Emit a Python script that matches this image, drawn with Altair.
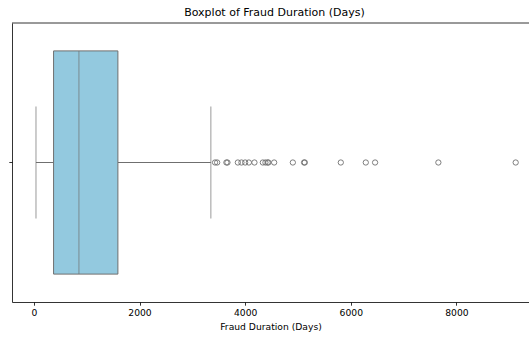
import altair as alt
import pandas as pd

# ---- data ----
group = ["Fraud Duration (Days)"]
whisker_low = [40]
q1 = [373]
median = [853]
q3 = [1591]
whisker_high = [3351]
outliers = [3430, 3470, 3645, 3665, 3862, 3930, 4000, 4070, 4176, 4335, 4384,
            4425, 4440, 4549, 4903, 5115, 5130, 5811, 6284, 6460, 7658, 9122]
x_ticks = [0, 2000, 4000, 6000, 8000]

stats = pd.DataFrame({"group": group, "wlo": whisker_low, "q1": q1,
                      "med": median, "q3": q3, "whi": whisker_high})
fliers = pd.DataFrame({"group": group * len(outliers), "value": outliers})

FONT = "DejaVu Sans"
LINE = "#6f6f6f"
FILL = "#93C9DF"
W, H = 517, 279

xscale = alt.Scale(domain=[-414, 9374], nice=False, zero=False)
xaxis = alt.Axis(values=x_ticks, format="d", grid=False, title="Fraud Duration (Days)",
                 labelFont=FONT, labelFontSize=9.2, labelColor="black", labelPadding=3,
                 titleFont=FONT, titleFontSize=9.2, titleFontWeight="normal", titleColor="black",
                 titleBaseline="alphabetic", titleY=27,
                 tickSize=3.2, tickWidth=0.8, tickColor="black",
                 domainColor="black", domainWidth=0.8)
yscale = alt.Scale(paddingInner=0, paddingOuter=0)
yaxis = alt.Axis(labels=False, title=None, grid=False, ticks=True, bandPosition=0.5,
                 tickSize=3.2, tickWidth=0.8, tickColor="black",
                 domainColor="black", domainWidth=0.8)

base = alt.Chart(stats)
Y = alt.Y("group:N", scale=yscale, axis=yaxis)

whisk_lo = base.mark_rule(color=LINE, strokeWidth=1).encode(
    x=alt.X("wlo:Q", scale=xscale, axis=xaxis), x2="q1:Q", y=Y)
whisk_hi = base.mark_rule(color=LINE, strokeWidth=1).encode(
    x=alt.X("q3:Q", scale=xscale), x2="whi:Q", y=Y)
cap_lo = base.mark_tick(color=LINE, size=112, thickness=1).encode(
    x=alt.X("wlo:Q", scale=xscale), y=Y)
cap_hi = base.mark_tick(color=LINE, size=112, thickness=1).encode(
    x=alt.X("whi:Q", scale=xscale), y=Y)
box = base.mark_bar(height={"band": 0.8}, fill=FILL, stroke=LINE, strokeWidth=1).encode(
    x=alt.X("q1:Q", scale=xscale), x2="q3:Q", y=Y)
med = base.mark_tick(color=LINE, size=223, thickness=1).encode(
    x=alt.X("med:Q", scale=xscale), y=Y)
pts = alt.Chart(fliers).mark_point(shape="circle", filled=False, size=28,
                                    stroke=LINE, strokeWidth=0.9, opacity=1).encode(
    x=alt.X("value:Q", scale=xscale), y=Y)
top = base.mark_rule(color="black", strokeWidth=0.8).encode(
    x=alt.value(0), x2=alt.value(W), y=alt.value(0))

chart = alt.layer(whisk_lo, whisk_hi, cap_lo, cap_hi, box, med, pts, top).properties(
    width=W, height=H,
    title=alt.TitleParams("Boxplot of Fraud Duration (Days)", font=FONT, fontSize=11,
                          fontWeight="normal", color="black", anchor="middle", dx=4, offset=5),
    autosize=alt.AutoSizeParams(type="none"),
    padding={"left": 12, "top": 23, "right": 0, "bottom": 35},
    background="white",
).configure_view(stroke=None)

chart.save("out.html", embed_options={"renderer": "svg", "actions": False})
